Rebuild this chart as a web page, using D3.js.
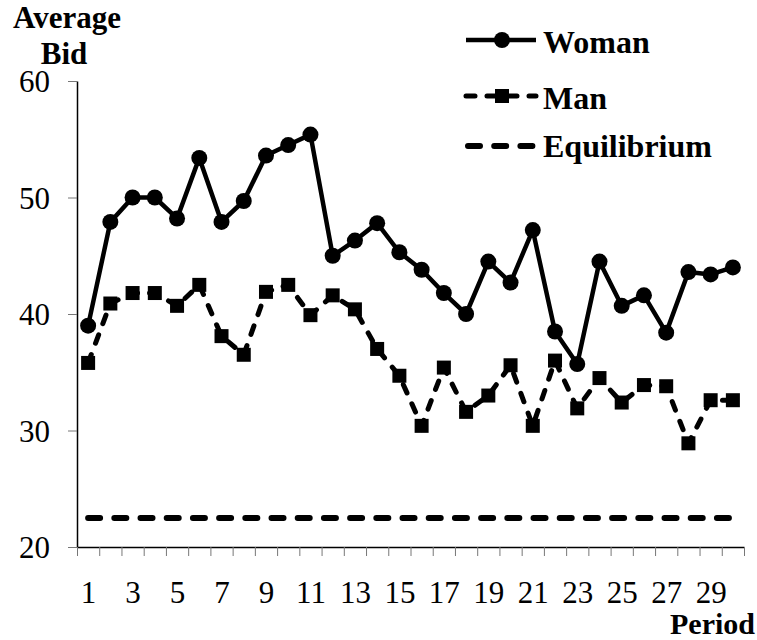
<!DOCTYPE html>
<html>
<head>
<meta charset="utf-8">
<script src="https://cdnjs.cloudflare.com/ajax/libs/d3/7.8.5/d3.min.js"></script>
<style>
    body { margin: 0; background: white; }
</style>
</head>
<body>
<div id="chart"></div>
<script>
// data
var periods = d3.range(1, 31);
var woman = [39.0, 47.9, 50.0, 50.0, 48.2, 53.4, 47.9, 49.7, 53.6, 54.5,
             55.4, 45.0, 46.3, 47.8, 45.3, 43.8, 41.8, 40.0, 44.5, 42.7,
             47.2, 38.5, 35.7, 44.5, 40.7, 41.6, 38.4, 43.6, 43.4, 44.0];
var man = [35.8, 40.9, 41.8, 41.8, 40.7, 42.5, 38.1, 36.5, 41.9, 42.5,
           39.9, 41.6, 40.4, 37.0, 34.7, 30.4, 35.4, 31.6, 33.0, 35.6,
           30.4, 36.0, 31.9, 34.5, 32.4, 33.9, 33.8, 28.9, 32.6, 32.6];
var equilibrium = 22.5;
var yTicks = [20, 30, 40, 50, 60];
var xLabels = periods.filter(function (p) { return p % 2 == 1; });

var serif = "'Liberation Serif', Tinos, 'Times New Roman', Times, 'DejaVu Serif', serif";

var W = 757, H = 640;
var margin = {left: 77, right: 13, top: 81, bottom: 93};

var svg = d3.select("#chart").append("svg")
    .attr("width", W)
    .attr("height", H)
    .style("font-family", serif);

var x = d3.scaleLinear().domain([0.5, 30.5]).range([margin.left, W - margin.right]);
var y = d3.scaleLinear().domain([20, 60]).range([H - margin.bottom, margin.top]);

// y axis
var yAxis = svg.append("g")
    .attr("transform", "translate(" + margin.left + ",0)")
    .call(d3.axisLeft(y).tickValues(yTicks).tickSize(9).tickPadding(18).tickSizeOuter(0));
yAxis.attr("font-family", null).attr("font-size", null);
yAxis.select(".domain").attr("stroke", "black").attr("stroke-width", 1.5);
yAxis.selectAll(".tick line").attr("stroke", "#777");
yAxis.selectAll("text").style("font-size", "31px").style("font-family", serif).attr("dy", "0.34em");

// x axis: ticks between periods
var xAxis = svg.append("g")
    .attr("transform", "translate(0," + y(20) + ")")
    .call(d3.axisBottom(x).tickValues(d3.range(0.5, 31, 1)).tickFormat("").tickSize(9).tickSizeOuter(0));
xAxis.select(".domain").attr("stroke", "black").attr("stroke-width", 1.5);
xAxis.selectAll(".tick line").attr("stroke", "#777");

// x labels on odd periods
var xLab = svg.append("g")
    .attr("transform", "translate(0," + y(20) + ")")
    .call(d3.axisBottom(x).tickValues(xLabels).tickFormat(d3.format("d")).tickSize(0).tickPadding(34));
xLab.attr("font-family", null).attr("font-size", null);
xLab.select(".domain").remove();
xLab.selectAll("text").style("font-size", "31px").style("font-family", serif);

// equilibrium
svg.append("line")
    .attr("x1", x(1)).attr("x2", x(30))
    .attr("y1", y(equilibrium)).attr("y2", y(equilibrium))
    .attr("stroke", "black")
    .attr("stroke-width", 6)
    .attr("stroke-linecap", "round")
    .attr("stroke-dasharray", "12,14.2");

var line = d3.line()
    .x(function (d, i) { return x(periods[i]); })
    .y(function (d) { return y(d); });

// man
svg.append("path")
    .datum(man)
    .attr("d", line)
    .attr("fill", "none")
    .attr("stroke", "black")
    .attr("stroke-width", 5)
    .attr("stroke-linecap", "round")
    .attr("stroke-dasharray", "9,12");

svg.selectAll("rect.man")
    .data(man)
    .enter()
    .append("rect")
    .attr("class", "man")
    .attr("x", function (d, i) { return x(periods[i]) - 7; })
    .attr("y", function (d) { return y(d) - 7; })
    .attr("width", 14)
    .attr("height", 14)
    .attr("fill", "black");

// woman
svg.append("path")
    .datum(woman)
    .attr("d", line)
    .attr("fill", "none")
    .attr("stroke", "black")
    .attr("stroke-width", 4.5)
    .attr("stroke-linejoin", "round");

svg.selectAll("circle.woman")
    .data(woman)
    .enter()
    .append("circle")
    .attr("class", "woman")
    .attr("cx", function (d, i) { return x(periods[i]); })
    .attr("cy", function (d) { return y(d); })
    .attr("r", 8)
    .attr("fill", "black");

// axis titles
var title = svg.append("text")
    .style("font-size", "31px")
    .style("font-weight", "bold")
    .attr("text-anchor", "middle");
title.append("tspan").attr("x", 67).attr("y", 28).text("Average");
title.append("tspan").attr("x", 64).attr("y", 64).text("Bid");

svg.append("text")
    .attr("x", 755)
    .attr("y", 634)
    .style("font-size", "30px")
    .style("font-weight", "bold")
    .attr("text-anchor", "end")
    .text("Period");

// legend
var legend = svg.append("g");
var lx1 = 466, lx2 = 536, lmid = 502, ltx = 543;

legend.append("line")
    .attr("x1", lx1).attr("x2", lx2).attr("y1", 40).attr("y2", 40)
    .attr("stroke", "black").attr("stroke-width", 4.5);
legend.append("circle")
    .attr("cx", lmid).attr("cy", 40).attr("r", 8).attr("fill", "black");
legend.append("text")
    .attr("x", ltx).attr("y", 53)
    .style("font-size", "32px").style("font-weight", "bold")
    .text("Woman");

legend.append("line")
    .attr("x1", lx1).attr("x2", lx2).attr("y1", 96).attr("y2", 96)
    .attr("stroke", "black").attr("stroke-width", 5)
    .attr("stroke-linecap", "round")
    .attr("stroke-dasharray", "9,12");
legend.append("rect")
    .attr("x", lmid - 7).attr("y", 89).attr("width", 14).attr("height", 14).attr("fill", "black");
legend.append("text")
    .attr("x", ltx).attr("y", 109)
    .style("font-size", "32px").style("font-weight", "bold")
    .text("Man");

legend.append("line")
    .attr("x1", lx1 + 2).attr("x2", lx2 - 2).attr("y1", 146).attr("y2", 146)
    .attr("stroke", "black").attr("stroke-width", 6)
    .attr("stroke-linecap", "round")
    .attr("stroke-dasharray", "12,14.2");
legend.append("text")
    .attr("x", ltx).attr("y", 157)
    .style("font-size", "32px").style("font-weight", "bold")
    .text("Equilibrium");
</script>
</body>
</html>
